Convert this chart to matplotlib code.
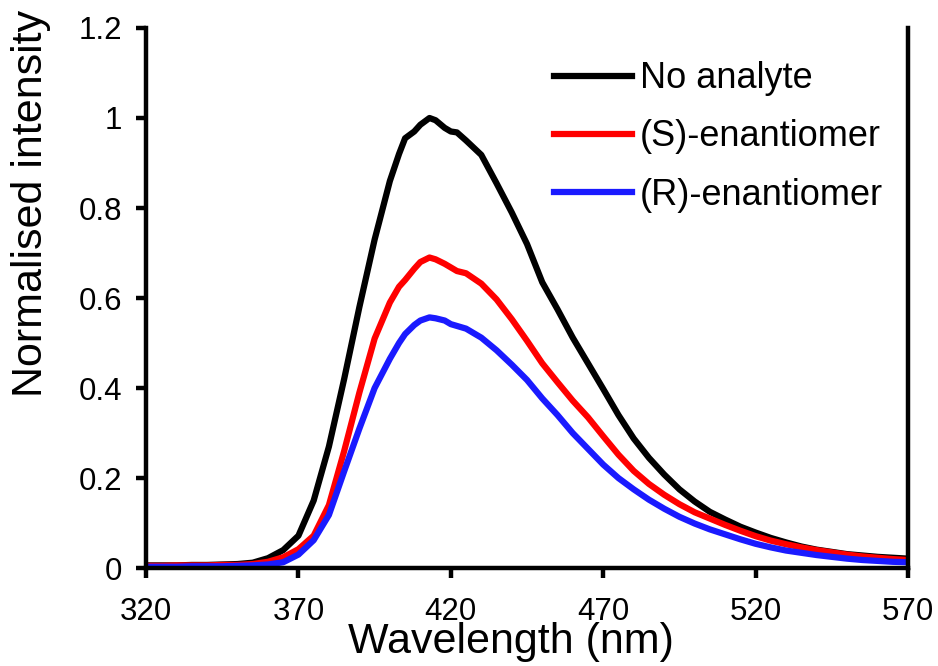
import matplotlib.pyplot as plt

plt.rcParams['font.family'] = ['Liberation Sans', 'DejaVu Sans']

wavelength = [320, 325, 330, 335, 340, 345, 350, 355, 360, 365, 370, 375, 380, 385, 390,
              395, 400, 403, 405, 408, 410, 413, 415, 418, 420, 422, 425, 430, 435, 440,
              445, 450, 455, 460, 465, 470, 475, 480, 485, 490, 495, 500, 505, 510, 515,
              520, 525, 530, 535, 540, 545, 550, 555, 560, 565, 570]

no_analyte = [0.006, 0.006, 0.006, 0.007, 0.007, 0.008, 0.009, 0.012, 0.022, 0.040, 0.072, 0.150,
              0.270, 0.420, 0.580, 0.730, 0.860, 0.920, 0.955, 0.970, 0.985, 1.000, 0.995, 0.978,
              0.970, 0.968, 0.950, 0.918, 0.855, 0.790, 0.720, 0.635, 0.575, 0.512, 0.455, 0.398,
              0.340, 0.288, 0.245, 0.208, 0.175, 0.148, 0.125, 0.108, 0.092, 0.079, 0.067, 0.057,
              0.048, 0.041, 0.036, 0.031, 0.028, 0.025, 0.023, 0.021]

s_enant = [0.005, 0.005, 0.006, 0.006, 0.006, 0.007, 0.007, 0.009, 0.014, 0.024, 0.042, 0.072,
           0.140, 0.260, 0.390, 0.510, 0.590, 0.625, 0.640, 0.665, 0.680, 0.690, 0.686, 0.676,
           0.668, 0.660, 0.655, 0.632, 0.597, 0.553, 0.505, 0.455, 0.413, 0.372, 0.335, 0.293,
           0.252, 0.216, 0.187, 0.163, 0.142, 0.124, 0.110, 0.096, 0.083, 0.071, 0.061, 0.053,
           0.046, 0.040, 0.035, 0.030, 0.026, 0.023, 0.020, 0.018]

r_enant = [0.003, 0.003, 0.003, 0.004, 0.004, 0.004, 0.005, 0.006, 0.008, 0.013, 0.030, 0.062,
           0.118, 0.215, 0.310, 0.400, 0.465, 0.500, 0.520, 0.540, 0.550, 0.557, 0.555, 0.550,
           0.542, 0.538, 0.532, 0.512, 0.484, 0.452, 0.418, 0.377, 0.340, 0.300, 0.265, 0.230,
           0.200, 0.175, 0.152, 0.132, 0.114, 0.099, 0.086, 0.075, 0.064, 0.054, 0.046, 0.039,
           0.034, 0.029, 0.025, 0.021, 0.018, 0.016, 0.014, 0.013]

fig = plt.figure(figsize=(9.38, 6.66), dpi=100)
ax = fig.add_axes([0.1557, 0.147, 0.968 - 0.1557, 0.958 - 0.147])

ax.plot(wavelength, no_analyte, color='black', lw=4.5, label='No analyte')
ax.plot(wavelength, s_enant, color='#ff0000', lw=4.5, label='(S)-enantiomer')
ax.plot(wavelength, r_enant, color='#1a1aff', lw=4.5, label='(R)-enantiomer')

ax.set_xlim(320, 570)
ax.set_ylim(0, 1.2)
ax.set_xticks([320, 370, 420, 470, 520, 570])
ax.set_yticks([0, 0.2, 0.4, 0.6, 0.8, 1.0, 1.2])
ax.set_yticklabels(['0', '0.2', '0.4', '0.6', '0.8', '1', '1.2'])

ax.spines['top'].set_visible(False)
for s in ['left', 'right', 'bottom']:
    ax.spines[s].set_linewidth(3.2)
ax.tick_params(direction='out', length=7, width=3.2, labelsize=22.5)
ax.tick_params(axis='x', pad=14)
ax.tick_params(axis='y', pad=10)

ax.set_xlabel('Wavelength (nm)', fontsize=31)
ax.set_ylabel('Normalised intensity', fontsize=31)
ax.xaxis.set_label_coords(0.479, -0.1)
ax.yaxis.set_label_coords(-0.125, 0.676)

ax.legend(loc='upper right', frameon=False, fontsize=26, handlelength=2.15,
          handletextpad=0.22, labelspacing=0.64, borderaxespad=0.3,
          bbox_to_anchor=(1.0, 0.985))

fig.savefig('out.png', dpi=100)
